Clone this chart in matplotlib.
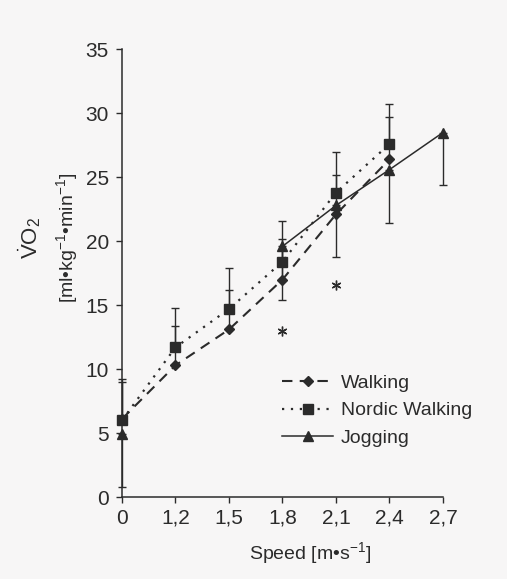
import numpy as np
import matplotlib.pyplot as plt

plt.rcParams['font.family'] = ['Liberation Sans', 'DejaVu Sans']
plt.rcParams['mathtext.fontset'] = 'custom'
plt.rcParams['mathtext.rm'] = 'Liberation Sans'
plt.rcParams['mathtext.it'] = 'Liberation Sans:italic'

# speeds (categorical axis)
speeds = ['0', '1,2', '1,5', '1,8', '2,1', '2,4', '2,7']

# VO2 means and SD, nan where not measured
walking = [6.1, 10.3, 13.1, 17.0, 22.1, 26.4, np.nan]
walking_sd = [2.9, 3.1, 3.1, 3.2, 3.1, 3.3, np.nan]
nordic = [6.0, 11.7, 14.7, 18.4, 23.8, 27.6, np.nan]
nordic_sd = [3.2, 3.1, 3.2, 3.2, 3.2, 3.1, np.nan]
jogging = [4.9, np.nan, np.nan, 19.6, 22.8, 25.6, 28.5]
jogging_sd = [4.1, np.nan, np.nan, 4.2, 4.0, 4.2, 4.1]

# significant differences marked with *
sig_x = [3, 4]
sig_y = [13.0, 16.6]

ink = '#2b2b2b'
bg = '#f7f6f6'

fig = plt.figure(figsize=(5.07, 5.79), dpi=100, facecolor=bg)
ax = fig.add_axes([0.2406, 0.1416, 0.633, 0.773])
ax.set_facecolor(bg)

x = np.arange(len(speeds))
zero = np.zeros(len(speeds))


def unclip(container):
    for a in container.get_children():
        a.set_clip_on(False)


# error bars: walking / nordic upward, jogging downward
for mean, lo, hi in [(walking, zero, walking_sd),
                     (nordic, zero, nordic_sd),
                     (jogging, jogging_sd, zero)]:
    eb = ax.errorbar(x, mean, yerr=[lo, hi], fmt='none', ecolor=ink,
                     elinewidth=1.0, capsize=3.2, capthick=1.0)
    unclip(eb)

ax.plot(x, walking, color=ink, lw=1.5, linestyle=(0, (5, 3.5)),
        marker='D', ms=5.5, label='Walking', clip_on=False)
ax.plot(x, nordic, color=ink, lw=1.6, linestyle=(0, (1, 3)),
        marker='s', ms=6.5, label='Nordic Walking', clip_on=False)
ax.plot(x, jogging, color=ink, lw=1.1, linestyle='-',
        marker='^', ms=7.5, label='Jogging', clip_on=False)

ax.plot(sig_x, sig_y, linestyle='none', marker=(6, 2, 0), ms=7,
        mew=1.0, color=ink)

ax.set_xlim(0, 6)
ax.set_ylim(0, 35)
ax.set_xticks(x)
ax.set_xticklabels(speeds)
ax.set_yticks(np.arange(0, 36, 5))
ax.tick_params(colors=ink, labelsize=15, length=4.5, width=1.0, pad=4)
ax.tick_params(axis='y', pad=5)

for side in ['top', 'right']:
    ax.spines[side].set_visible(False)
for side in ['left', 'bottom']:
    ax.spines[side].set_color(ink)
    ax.spines[side].set_linewidth(1.1)

ax.text(0.586, -0.125, 'Speed [m•s$^{-1}$]', transform=ax.transAxes,
        ha='center', va='center', fontsize=14, color=ink)
ax.text(-0.287, 0.579, r'$\dot{\rm V}$O$_2$', transform=ax.transAxes,
        rotation=90, ha='center', va='center', fontsize=16, color=ink)
ax.text(-0.171, 0.579, '[ml•kg$^{-1}$•min$^{-1}$]', transform=ax.transAxes,
        rotation=90, ha='center', va='center', fontsize=14, color=ink)

leg = ax.legend(loc='upper left', bbox_to_anchor=(0.5, 0.274), frameon=False,
                fontsize=14, handlelength=2.6, handletextpad=0.4,
                labelspacing=0.5, borderpad=0, borderaxespad=0)
for t in leg.get_texts():
    t.set_color(ink)

fig.savefig('out.png', dpi=100, facecolor=bg)
